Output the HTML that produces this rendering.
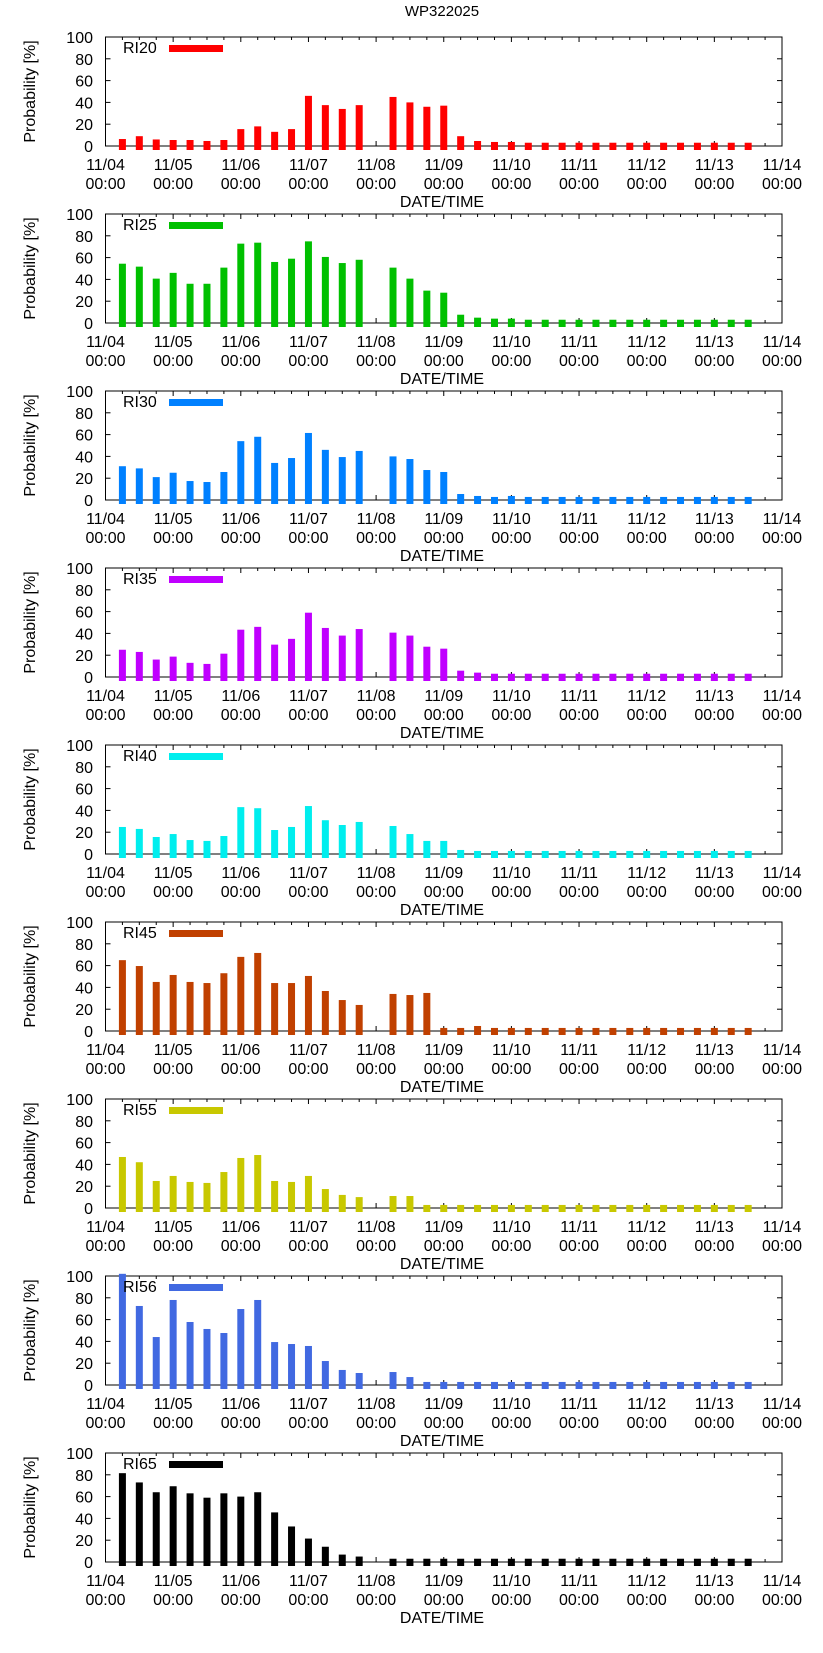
<!DOCTYPE html>
<html><head><meta charset="utf-8"><style>
html,body{margin:0;padding:0;background:#fff;}
svg{display:block;font-family:"Liberation Sans",sans-serif;}
</style></head><body>
<svg id="chart" width="823" height="1653" viewBox="0 0 823 1653" xmlns="http://www.w3.org/2000/svg">
<text x="442" y="16" font-size="15" text-anchor="middle">WP322025</text>
</svg>
<script>
// Data
const seriesNames = ["RI20","RI25","RI30","RI35","RI40","RI45","RI55","RI56","RI65"];
const seriesColors = ["#ff0000","#00c000","#0080ff","#c000ff","#00eeee","#c04000","#c8c800","#4169e1","#000000"];
const xTickDays = ["11/04","11/05","11/06","11/07","11/08","11/09","11/10","11/11","11/12","11/13","11/14"];
const xTickTime = "00:00";
const yTicks = [0,20,40,60,80,100];
// bar times in days after 11/04 00:00 (6-hourly)
const barDays = [0.25,0.5,0.75,1,1.25,1.5,1.75,2,2.25,2.5,2.75,3,3.25,3.5,3.75,4,4.25,4.5,4.75,5,5.25,5.5,5.75,6,6.25,6.5,6.75,7,7.25,7.5,7.75,8,8.25,8.5,8.75,9,9.25,9.5];
const ri20 = [6.4,9,6,5.5,5.5,4.6,5.5,15.5,18,13,15.5,46,37.5,34,37.5,null,45,40,36,37,9,4.6,3.7,3.7,3,3,3,3,3,3,3,3,3,3,3,3,3,3];
const ri25 = [54.4,51.7,40.7,46,36,36,50.8,72.8,73.7,56,59,74.9,60.6,55,58,null,50.8,40.7,29.7,27.8,7.6,4.9,4,4,3,3,3,3,3,3,3,3,3,3,3,3,3,3];
const ri30 = [31,29,21,25,17.4,16.5,25.7,54,58,34,38.5,61.5,46,39.4,45,null,40,37.6,27.5,25.7,5.5,3.7,2.8,3.7,2.8,2.8,2.8,2.8,2.8,2.8,2.8,2.8,2.8,2.8,2.8,2.8,2.8,2.8];
const ri35 = [25,23,16,18.7,13,12,21.4,43.4,46,29.7,35,59,45,38,44,null,40.7,38,27.8,26,5.8,4,3,3,3,3,3,3,3,3,3,3,3,3,3,3,3,3];
const ri40 = [24.8,23,15.6,18.3,12.8,12,16.5,43,42,22,24.8,44,31,26.6,29.4,null,25.7,18.3,12,12,3.7,2.8,2.8,2.8,2.8,2.8,2.8,2.8,2.8,2.8,2.8,2.8,2.8,2.8,2.8,2.8,2.8,2.8];
const ri45 = [65,59.6,45,51.4,45,44,53,68,71.6,44,44,50.5,36.7,28.4,23.9,null,34,33,34.9,2.8,2.8,4.6,2.8,2.8,2.8,2.8,2.8,2.8,2.8,2.8,2.8,2.8,2.8,2.8,2.8,2.8,2.8,2.8];
const ri55 = [46.8,42,24.8,29.4,23.9,23,33,45.9,48.6,24.8,23.9,29.4,17.4,12,10,null,11,11,2.8,2.8,2.8,2.8,2.8,2.8,2.8,2.8,2.8,2.8,2.8,2.8,2.8,2.8,2.8,2.8,2.8,2.8,2.8,2.8];
const ri56 = [102,72.5,44,78,57.8,51.4,47.7,69.7,78,39.4,37.6,35.8,22,13.8,11,null,11.9,7.3,2.8,2.8,2.8,2.8,2.8,2.8,2.8,2.8,2.8,2.8,2.8,2.8,2.8,2.8,2.8,2.8,2.8,2.8,2.8,2.8];
const ri65 = [81.5,73,64,69.5,63,59,63,60,64,45.5,32.6,21.5,14,6.8,5,null,3,3,3,3,3,3,3,3,3,3,3,3,3,3,3,3,3,3,3,3,3,3];
const allSeries = [ri20,ri25,ri30,ri35,ri40,ri45,ri55,ri56,ri65];

const svg = document.getElementById('chart');
const NS = "http://www.w3.org/2000/svg";
const LEFT = 105.5, RIGHT = 782, PH = 109, Z0 = 146, GAP = 177, NDAYS = 10;
function xScale(d){ return LEFT + d*(RIGHT-LEFT)/NDAYS; }
function mk(tag, attrs, parent){ const e = document.createElementNS(NS, tag); for (const k in attrs) e.setAttribute(k, attrs[k]); (parent||svg).appendChild(e); return e; }

allSeries.forEach((vals, p) => {
  const Z = Z0 + p*GAP, T = Z - PH;
  const yScale = v => Z - v*PH/100;
  const g = mk('g', {});
  
  
  // x minor ticks every 6h
  for (let k = 1; k < NDAYS*4; k++) {
    const x = xScale(k/4);
    const len = (k % 4 === 0) ? 5 : 3;
    mk('line', {x1: x, x2: x, y1: T, y2: T+len, stroke: '#000', 'stroke-width': 1}, g);
    mk('line', {x1: x, x2: x, y1: Z, y2: Z-len, stroke: '#000', 'stroke-width': 1}, g);
  }
  // y ticks & labels
  yTicks.forEach(t => {
    const y = yScale(t);
    mk('line', {x1: LEFT, x2: LEFT+5, y1: y, y2: y, stroke: '#000'}, g);
    mk('line', {x1: RIGHT, x2: RIGHT-5, y1: y, y2: y, stroke: '#000'}, g);
    const tl = mk('text', {x: 93, y: y+6, 'font-size': 16, 'text-anchor': 'end'}, g);
    tl.textContent = t;
    
    
  });
  // frame
  const fr = mk('rect', {x: LEFT, y: T, width: RIGHT-LEFT, height: PH, fill: 'none', stroke: '#000', 'stroke-width': 1}, g);
  
  
  // bars (drawn over ticks and frame)
  vals.forEach((v, i) => {
    if (v === null) return;
    const cx = xScale(barDays[i]);
    const r = mk('rect', {x: cx-3.5, y: yScale(v), width: 7, height: Z + 4 - yScale(v), fill: seriesColors[p]}, g);
    
    
  });
  // x labels
  xTickDays.forEach((lab, i) => {
    const x = xScale(i);
    const t1 = mk('text', {x: x, y: Z+24, 'font-size': 16, 'text-anchor': 'middle'}, g);
    t1.textContent = lab;
    
    
    const t2 = mk('text', {x: x, y: Z+43, 'font-size': 16, 'text-anchor': 'middle'}, g);
    t2.textContent = xTickTime;
    
    
  });
  const xt = mk('text', {x: 442, y: Z+61, 'font-size': 16, 'text-anchor': 'middle'}, g);
  xt.textContent = 'DATE/TIME';
  
  
  const yt = mk('text', {x: 0, y: 0, 'font-size': 16, 'text-anchor': 'middle', transform: 'translate(35,' + (T + PH/2) + ') rotate(-90)'}, g);
  yt.textContent = 'Probability [%]';
  
  
  // legend
  const lt = mk('text', {x: 123, y: T+16, 'font-size': 16}, g);
  lt.textContent = seriesNames[p];
  
  
  const lb = mk('rect', {x: 169, y: T+8, width: 54, height: 7, fill: seriesColors[p]}, g);
  
  
});
</script>
</body></html>
